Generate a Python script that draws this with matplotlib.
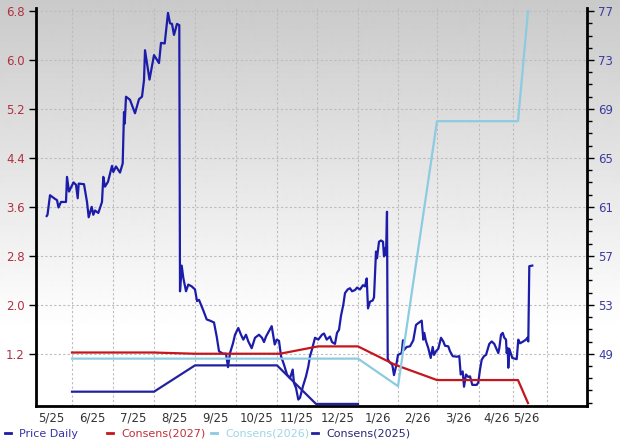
import numpy as np
import matplotlib
matplotlib.use("Agg")
import matplotlib.pyplot as plt
from matplotlib.lines import Line2D
from matplotlib.ticker import FixedLocator, MultipleLocator, NullFormatter

# -----------------------------
# Data (t = position along the time axis, one unit ~ one chart pixel)
# -----------------------------
price_t = [46.7, 47.5, 50, 55, 57, 58.5, 61, 66, 67, 69,
           73.5, 76, 77.7, 78.7, 84, 87, 88.7, 91.7, 93.3, 95,
           98.3, 102, 103.3, 105, 108, 112, 113.3, 116, 120, 122.7,
           124, 124.7, 126, 130, 135, 139, 142, 144, 145, 149.5,
           154, 159, 161, 164.7, 168, 170, 172, 174, 177, 179.3,
           180, 181.7, 183.3, 186, 188.3, 191.7, 195, 197, 199, 203,
           206.7, 210, 214, 216.7, 219, 223, 226, 228, 230, 233,
           235, 238.3, 241, 243.3, 246, 248.3, 251.7, 255, 259, 262,
           264, 266, 271.7, 274.7, 276.7, 279, 281, 284, 287, 290,
           292.7, 294, 296, 298.3, 300, 303, 306, 308.3, 310, 312,
           315, 318.3, 322, 324, 326.7, 330, 332, 335, 337, 339,
           341, 343.3, 345, 347.7, 350, 352, 355, 357, 360, 363,
           365, 366.7, 368, 370, 372.7, 374, 376, 377, 378, 379,
           381, 383, 384, 385, 386, 387, 387.7, 389, 392.3, 394,
           396, 398, 401.7, 403, 404, 406.7, 410, 413.3, 416, 418.3,
           421.7, 423.3, 424.3, 425.7, 428.3, 430.7, 432.7, 434, 436, 438.3,
           441, 443.3, 445, 448.3, 450, 452.7, 456.7, 459.3, 460.7, 462.7,
           464, 466, 468.3, 470, 472.3, 476.7, 478.3, 480, 481.7, 484,
           486, 487.7, 489.3, 491.7, 494.3, 496.7, 498.3, 499.3, 501, 502.7,
           504.3, 506, 506.7, 507.7, 508.3, 509.3, 510.7, 512.3, 516.7, 518.3,
           520, 523.3, 526, 527.3, 528.3, 529.3, 532.3]
price_v = [3.45, 3.47, 3.79, 3.73, 3.71, 3.59, 3.68, 3.68, 4.09, 3.85,
           4.00, 3.96, 3.74, 3.98, 3.97, 3.68, 3.43, 3.60, 3.47, 3.54,
           3.50, 3.68, 4.09, 3.93, 4.01, 4.27, 4.17, 4.26, 4.16, 4.31,
           5.15, 4.96, 5.40, 5.35, 5.13, 5.36, 5.40, 5.67, 6.16, 5.68,
           6.08, 5.95, 6.28, 6.27, 6.77, 6.60, 6.59, 6.41, 6.59, 6.57,
           2.22, 2.64, 2.44, 2.22, 2.33, 2.30, 2.25, 2.06, 2.08, 1.92,
           1.76, 1.74, 1.71, 1.48, 1.24, 1.20, 1.20, 0.98, 1.21, 1.37,
           1.51, 1.62, 1.51, 1.43, 1.51, 1.40, 1.29, 1.46, 1.51, 1.46,
           1.39, 1.48, 1.65, 1.35, 1.43, 1.41, 1.16, 1.02, 0.86, 0.80,
           0.94, 0.72, 0.64, 0.45, 0.48, 0.67, 0.83, 0.99, 1.16, 1.27,
           1.46, 1.43, 1.51, 1.53, 1.43, 1.48, 1.39, 1.36, 1.54, 1.59,
           1.82, 2.00, 2.19, 2.25, 2.27, 2.22, 2.24, 2.28, 2.25, 2.32,
           2.30, 2.43, 1.94, 2.05, 2.07, 2.12, 2.87, 2.76, 2.89, 3.03,
           3.05, 3.03, 2.79, 2.92, 2.81, 3.52, 1.12, 1.07, 1.02, 0.85,
           0.99, 1.18, 1.21, 1.42, 1.26, 1.31, 1.32, 1.42, 1.67, 1.70,
           1.74, 1.43, 1.54, 1.42, 1.29, 1.13, 1.31, 1.18, 1.24, 1.28,
           1.46, 1.40, 1.33, 1.32, 1.24, 1.16, 1.15, 1.16, 0.86, 0.91,
           0.66, 0.86, 0.82, 0.83, 0.69, 0.69, 0.73, 0.94, 1.10, 1.16,
           1.18, 1.27, 1.36, 1.40, 1.36, 1.27, 1.21, 1.29, 1.51, 1.54,
           1.46, 1.43, 1.21, 1.29, 0.97, 1.28, 1.21, 1.13, 1.11, 1.43,
           1.37, 1.40, 1.43, 1.46, 1.40, 2.63, 2.64]

cons27_t = [72, 153, 195, 280, 318, 358, 395, 437, 518, 528]
cons27_v = [49.1, 49.1, 49.0, 49.0, 49.6, 49.6, 48.1, 46.85, 46.85, 44.97]

cons26_t = [72, 358, 398, 437, 518, 528]
cons26_v = [48.6, 48.6, 46.35, 68.0, 68.0, 77.0]

cons25_t = [72, 154, 195, 277, 316, 358]
cons25_v = [45.9, 45.9, 48.05, 48.05, 44.9, 44.9]

month_edges = [72, 113, 154, 195, 236, 277, 317, 358, 398, 437, 479, 513, 547]
month_label_pos = [51.5, 92.5, 133.5, 174.5, 215.5, 256.5, 297, 337.5, 378, 417.5, 458, 497, 526]
month_labels = ["5/25", "6/25", "7/25", "8/25", "9/25", "10/25", "11/25",
                "12/25", "1/26", "2/26", "3/26", "4/26", "5/26"]

left_ticks = [1.2, 2.0, 2.8, 3.6, 4.4, 5.2, 6.0, 6.8]
right_ticks = [49, 53, 57, 61, 65, 69, 73, 77]

# -----------------------------
# Styling
# -----------------------------
c_price = "#1c1caa"
c_27 = "#c4161c"
c_26 = "#8ccbe0"
c_25 = "#2222a0"
grid_kw = dict(color="#bcbcbc", linestyle=(0, (2, 2)), linewidth=0.8)

fig = plt.figure(figsize=(6.2, 4.46), dpi=100)

# gray-to-white background gradient over the whole figure
bg = fig.add_axes([0, 0, 1, 1], zorder=-10)
rows = np.linspace(0, 1, 446)
shade = 0.79 + 0.21 * np.clip(rows / 0.74, 0, 1)
bg.imshow(shade[:, None], aspect="auto", cmap="gray", vmin=0, vmax=1,
          extent=[0, 1, 0, 1], interpolation="bilinear")
bg.axis("off")

ax = fig.add_axes([36 / 620, 1 - 406 / 446, 551 / 620, 398 / 446])
ax.patch.set_alpha(0)
ax2 = ax.twinx()
ax2.patch.set_alpha(0)

ax.set_xlim(36, 587)
ax.set_ylim(0.345, 6.85)
ax2.set_ylim(44.73, 77.25)

# lines
ax.plot(price_t, price_v, color=c_price, lw=1.6, zorder=3)
ax2.plot(cons27_t, cons27_v, color=c_27, lw=1.6)
ax2.plot(cons26_t, cons26_v, color=c_26, lw=1.6)
ax2.plot(cons25_t, cons25_v, color=c_25, lw=1.6)

# x axis: gridlines at month edges, labels in between
ax.xaxis.set_major_locator(FixedLocator(month_edges))
ax.xaxis.set_major_formatter(NullFormatter())
ax.xaxis.set_minor_locator(FixedLocator(month_label_pos))
ax.set_xticks(month_label_pos, month_labels, minor=True)
ax.tick_params(axis="x", which="both", length=0)
ax.tick_params(axis="x", which="minor", labelsize=8.5, labelcolor="#333333", pad=4)

# left axis
ax.set_yticks(left_ticks, [f"{v:.1f}" for v in left_ticks])
ax.tick_params(axis="y", which="major", length=5, width=1, direction="out",
               labelsize=8.5, labelcolor="#b03040", pad=3)

# right axis
ax2.set_yticks(right_ticks, [str(v) for v in right_ticks])
ax2.yaxis.set_minor_locator(MultipleLocator(1))
ax2.tick_params(axis="y", which="major", length=5, width=1, labelsize=8.5,
                labelcolor="#3c3ca0", pad=3)
ax2.tick_params(axis="y", which="minor", length=3.5, width=1)

ax.grid(True, which="major", **grid_kw)
ax.set_axisbelow(True)

for a in (ax, ax2):
    a.spines["top"].set_visible(False)
ax.spines["right"].set_visible(False)
ax2.spines["left"].set_visible(False)
ax2.spines["bottom"].set_visible(False)
ax.spines["left"].set_linewidth(2)
ax.spines["bottom"].set_linewidth(2)
ax2.spines["right"].set_linewidth(2)

# legend entries along the bottom
legend_items = [("Price Daily", c_price, "#3535a5", 5),
                ("Consens(2027)", c_27, "#c0303a", 107),
                ("Consens(2026)", c_26, "#a0d4e6", 211),
                ("Consens(2025)", c_25, "#28287a", 312)]
for name, lc, tc, px in legend_items:
    fig.legend(handles=[Line2D([], [], color=lc, lw=2)], labels=[name],
               loc="center left", bbox_to_anchor=(px / 620, 1 - 434 / 446),
               frameon=False, handlelength=0.55, handletextpad=0.7,
               fontsize=8, labelcolor=tc, borderaxespad=0, borderpad=0)

plt.savefig("out.png", dpi=100)
